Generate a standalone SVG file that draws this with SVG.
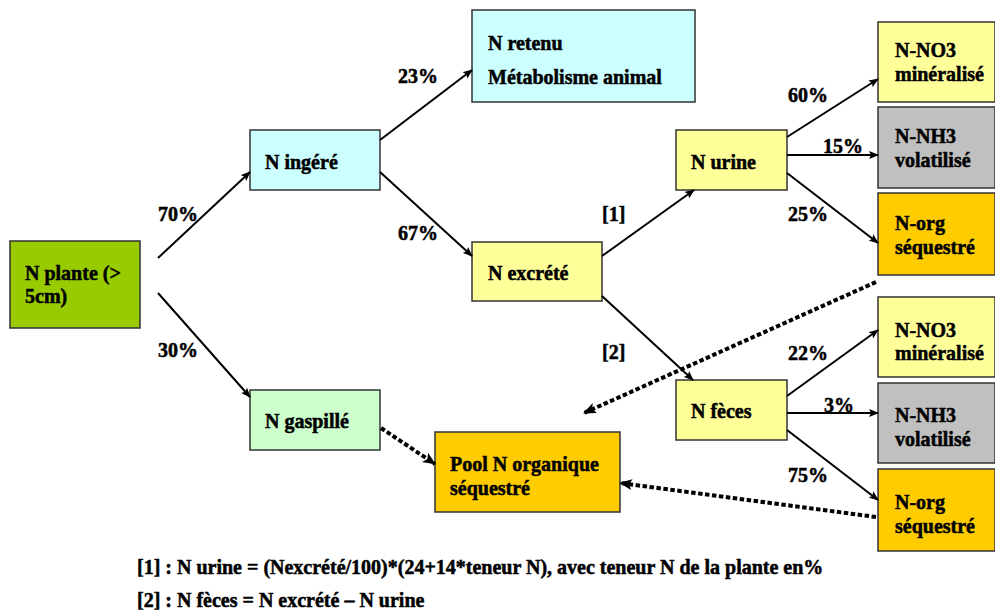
<svg xmlns="http://www.w3.org/2000/svg" width="995" height="611" viewBox="0 0 995 611">
<defs>
<marker id="ah" markerWidth="10" markerHeight="8" refX="9" refY="4" orient="auto" markerUnits="userSpaceOnUse" viewBox="0 0 10 8"><path d="M0,0 L10,4 L0,8 L2,4 Z" fill="#000"/></marker>
<marker id="ahd" markerWidth="13" markerHeight="11" refX="12" refY="5.5" orient="auto" markerUnits="userSpaceOnUse" viewBox="0 0 13 11"><path d="M0,0 L13,5.5 L0,11 L3,5.5 Z" fill="#000"/></marker>
</defs>
<style>
text{font-family:"Liberation Serif","Times New Roman",serif;font-weight:bold;font-size:20px;fill:#000;stroke:#000;stroke-width:0.5}
.box{stroke:#333;stroke-width:1.5}
.ln{stroke:#000;stroke-width:2;fill:none;marker-end:url(#ah)}
.dt{stroke:#000;stroke-width:4;stroke-dasharray:4.5 2.5;fill:none;marker-end:url(#ahd)}
</style>
<rect width="995" height="611" fill="#fff"/>
<g id="n_plante"><rect class="box" x="10" y="241" width="130" height="87" fill="#99cc00"/><text x="25" y="280">N plante (&gt;</text><text x="25" y="303">5cm)</text></g>
<g id="n_ingere"><rect class="box" x="250" y="130" width="130" height="60" fill="#ccffff"/><text x="265" y="169">N ingéré</text></g>
<g id="n_retenu"><rect class="box" x="472" y="10" width="223" height="92" fill="#ccffff"/><text x="488" y="50">N retenu</text><text x="488" y="84">Métabolisme animal</text></g>
<g id="n_excrete"><rect class="box" x="472" y="242" width="130" height="59" fill="#ffff99"/><text x="488" y="280">N excrété</text></g>
<g id="n_urine"><rect class="box" x="676" y="130" width="111" height="60" fill="#ffff99"/><text x="691" y="169">N urine</text></g>
<g id="n_feces"><rect class="box" x="676" y="380" width="111" height="60" fill="#ffff99"/><text x="691" y="418">N fèces</text></g>
<g id="n_gaspille"><rect class="box" x="250" y="390" width="130" height="60" fill="#ccffcc"/><text x="265" y="428">N gaspillé</text></g>
<g id="pool"><rect class="box" x="435" y="432" width="185" height="80" fill="#ffcc00"/><text x="450" y="471">Pool N organique</text><text x="450" y="495">séquestré</text></g>
<g id="u_no3"><rect class="box" x="878" y="22" width="117" height="80" fill="#ffff99"/><text x="895" y="57">N-NO3</text><text x="895" y="81">minéralisé</text></g>
<g id="u_nh3"><rect class="box" x="878" y="107" width="117" height="81" fill="#c0c0c0"/><text x="895" y="143">N-NH3</text><text x="895" y="167">volatilisé</text></g>
<g id="u_org"><rect class="box" x="878" y="193" width="117" height="82" fill="#ffcc00"/><text x="895" y="230">N-org</text><text x="895" y="254">séquestré</text></g>
<g id="f_no3"><rect class="box" x="878" y="297" width="117" height="80" fill="#ffff99"/><text x="895" y="337">N-NO3</text><text x="895" y="360">minéralisé</text></g>
<g id="f_nh3"><rect class="box" x="878" y="383" width="117" height="80" fill="#c0c0c0"/><text x="895" y="422">N-NH3</text><text x="895" y="446">volatilisé</text></g>
<g id="f_org"><rect class="box" x="878" y="469" width="117" height="82" fill="#ffcc00"/><text x="895" y="509">N-org</text><text x="895" y="533">séquestré</text></g>
<g id="connectors">
<path class="ln" d="M158,258 L250,172"/>
<path class="ln" d="M158,293 L250,397"/>
<path class="ln" d="M380,140 L472,70"/>
<path class="ln" d="M380,172 L472,256"/>
<path class="ln" d="M602,256 L694,190"/>
<path class="ln" d="M602,296 L693,380"/>
<path class="ln" d="M787,137 L878,79"/>
<path class="ln" d="M787,155 L878,155"/>
<path class="ln" d="M787,173 L878,243"/>
<path class="ln" d="M787,396 L878,330"/>
<path class="ln" d="M787,413 L878,413"/>
<path class="ln" d="M787,430 L878,500"/>
<path class="dt" d="M876,282 L584,413"/>
<path class="dt" d="M876,517 L620,483"/>
<path class="dt" d="M381,428 L435,464"/>
</g>
<g id="labels">
<text x="158" y="221">70%</text>
<text x="158" y="357">30%</text>
<text x="398" y="83">23%</text>
<text x="398" y="240">67%</text>
<text x="602" y="221">[1]</text>
<text x="602" y="359">[2]</text>
<text x="788" y="102">60%</text>
<text x="823" y="153">15%</text>
<text x="788" y="221">25%</text>
<text x="788" y="360">22%</text>
<text x="824" y="412">3%</text>
<text x="788" y="482">75%</text>
<text x="137" y="574">[1] : N urine = (Nexcrété/100)*(24+14*teneur N), avec teneur N de la plante en%</text>
<text x="137" y="607">[2] : N fèces = N excrété – N urine</text>
</g>
</svg>
